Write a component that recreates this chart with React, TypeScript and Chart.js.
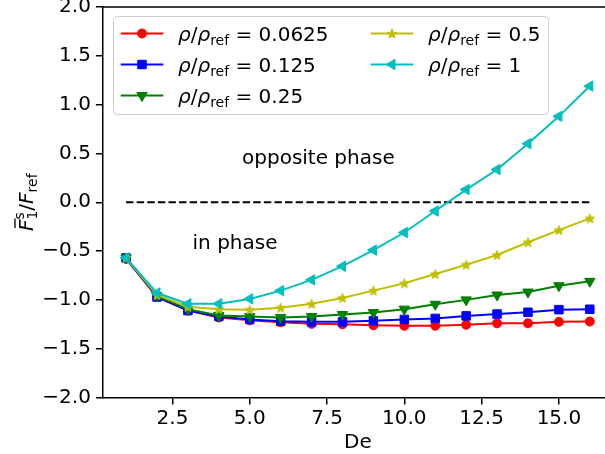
import React, { useEffect, useRef } from 'react';
import { Chart, registerables } from 'chart.js';

Chart.register(...registerables);

// ---------- data ----------
const deValues = [1, 2, 3, 4, 5, 6, 7, 8, 9, 10, 11, 12, 13, 14, 15, 16];
const rho0625 = [-0.58, -0.97, -1.11, -1.18, -1.21, -1.23, -1.245, -1.25, -1.26, -1.265, -1.265, -1.255, -1.24, -1.24, -1.225, -1.222];
const rho125 = [-0.57, -0.97, -1.11, -1.17, -1.2, -1.22, -1.225, -1.225, -1.215, -1.2, -1.19, -1.164, -1.145, -1.127, -1.1, -1.096];
const rho25 = [-0.57, -0.96, -1.095, -1.16, -1.17, -1.18, -1.17, -1.15, -1.13, -1.095, -1.045, -1.0, -0.95, -0.92, -0.855, -0.81];
const rho5 = [-0.57, -0.95, -1.07, -1.095, -1.1, -1.08, -1.04, -0.98, -0.905, -0.83, -0.735, -0.64, -0.54, -0.41, -0.285, -0.165];
const rho1 = [-0.57, -0.93, -1.04, -1.04, -0.99, -0.905, -0.795, -0.655, -0.49, -0.31, -0.09, 0.13, 0.335, 0.6, 0.88, 1.19];
const refLineX = [1, 16];
const refLineY = [0, 0];

const seriesNames = ['0.0625', '0.125', '0.25', '0.5', '1'];
const seriesColors = ['#ff0000', '#0000ff', '#008000', '#bfbf00', '#00bfbf'];
const seriesMarkers = ['circle', 'rect', 'triDown', 'star', 'triLeft'];

const xTickValues = [2.5, 5.0, 7.5, 10.0, 12.5, 15.0];
const yTickValues = [-2.0, -1.5, -1.0, -0.5, 0.0, 0.5, 1.0, 1.5, 2.0];
const xRange = [0.25, 16.75];
const yRange = [-2.0, 2.0];

const xTitle = 'De';
const annotations = [
  { text: 'opposite phase', x: 4.75, y: 0.39 },
  { text: 'in phase', x: 3.15, y: -0.475 },
];

const FONT = 'DejaVu Sans';
const FS = 20;
const SUB = 14;

function fmt(v: number) {
  return v.toFixed(1).replace('-', '\u2212');
}

function starPath(g: CanvasRenderingContext2D, cx: number, cy: number, R: number, r: number) {
  g.beginPath();
  for (let i = 0; i < 10; i++) {
    const rad = i % 2 === 0 ? R : r;
    const a = -Math.PI / 2 + (i * Math.PI) / 5;
    const px = cx + rad * Math.cos(a);
    const py = cy + rad * Math.sin(a);
    if (i === 0) g.moveTo(px, py);
    else g.lineTo(px, py);
  }
  g.closePath();
}

function makeStar(color: string, R: number) {
  const c = document.createElement('canvas');
  const s = Math.ceil(R * 2 + 4);
  c.width = s;
  c.height = s;
  const g = c.getContext('2d')!;
  starPath(g, s / 2, s / 2 + 0.5, R, R * 0.42);
  g.fillStyle = color;
  g.fill();
  g.lineWidth = 1;
  g.strokeStyle = color;
  g.stroke();
  return c;
}

function drawMarker(ctx: CanvasRenderingContext2D, kind: string, x: number, y: number, color: string) {
  ctx.save();
  ctx.fillStyle = color;
  ctx.strokeStyle = color;
  ctx.lineWidth = 1;
  ctx.beginPath();
  if (kind === 'circle') {
    ctx.arc(x, y, 4.5, 0, Math.PI * 2);
  } else if (kind === 'rect') {
    const h = 4.25;
    ctx.rect(x - h, y - h, 2 * h, 2 * h);
  } else if (kind === 'triDown' || kind === 'triLeft') {
    const r = 6;
    let rad = kind === 'triDown' ? Math.PI : -Math.PI / 2;
    for (let i = 0; i < 3; i++) {
      const px = x + Math.sin(rad) * r;
      const py = y - Math.cos(rad) * r;
      if (i === 0) ctx.moveTo(px, py);
      else ctx.lineTo(px, py);
      rad += (2 * Math.PI) / 3;
    }
    ctx.closePath();
  } else if (kind === 'star') {
    starPath(ctx, x, y + 0.5, 5, 2.1);
  }
  ctx.fill();
  ctx.stroke();
  ctx.restore();
}

type Part = { t: string; it?: boolean; sub?: boolean; sup?: boolean; stackWithNext?: boolean; bar?: boolean };

function partFont(p: Part) {
  const size = p.sub || p.sup ? SUB : FS;
  return `${p.it ? 'italic ' : ''}${size}px "${FONT}"`;
}

function measureParts(ctx: CanvasRenderingContext2D, parts: Part[]) {
  let w = 0;
  for (let i = 0; i < parts.length; i++) {
    const p = parts[i];
    ctx.font = partFont(p);
    const pw = ctx.measureText(p.t).width;
    if (p.stackWithNext) {
      const q = parts[i + 1];
      ctx.font = partFont(q);
      const qw = ctx.measureText(q.t).width;
      w += Math.max(pw, qw);
      i++;
    } else {
      w += pw;
    }
  }
  return w;
}

function drawParts(ctx: CanvasRenderingContext2D, parts: Part[], x: number, y: number) {
  let cx = x;
  ctx.textBaseline = 'alphabetic';
  ctx.textAlign = 'left';
  for (let i = 0; i < parts.length; i++) {
    const p = parts[i];
    ctx.font = partFont(p);
    const dy = p.sub ? 4.5 : p.sup ? -8.5 : 0;
    ctx.fillText(p.t, cx, y + dy);
    let pw = ctx.measureText(p.t).width;
    if (p.bar) {
      ctx.save();
      ctx.strokeStyle = ctx.fillStyle as string;
      ctx.lineWidth = 1.3;
      ctx.beginPath();
      ctx.moveTo(cx + 3, y - 17.5);
      ctx.lineTo(cx + pw + 1, y - 17.5);
      ctx.stroke();
      ctx.restore();
    }
    if (p.stackWithNext) {
      const q = parts[i + 1];
      ctx.font = partFont(q);
      const qdy = q.sub ? 4.5 : q.sup ? -8.5 : 0;
      ctx.fillText(q.t, cx, y + qdy);
      pw = Math.max(pw, ctx.measureText(q.t).width);
      i++;
    }
    cx += pw;
  }
}

const overlayPlugin = {
  id: 'overlay',
  afterDatasetsDraw(chart: any) {
    const ctx: CanvasRenderingContext2D = chart.ctx;
    const area = chart.chartArea;
    const xs = chart.scales.x;
    const ys = chart.scales.y;
    ctx.save();
    // top & right spines
    ctx.strokeStyle = '#000';
    ctx.lineWidth = 1.5;
    ctx.beginPath();
    ctx.moveTo(area.left, area.top);
    ctx.lineTo(area.right, area.top);
    ctx.lineTo(area.right, area.bottom);
    ctx.stroke();

    // annotations
    ctx.fillStyle = '#000';
    ctx.font = `${FS}px "${FONT}"`;
    ctx.textBaseline = 'alphabetic';
    ctx.textAlign = 'left';
    for (const a of annotations) {
      ctx.fillText(a.text, xs.getPixelForValue(a.x), ys.getPixelForValue(a.y));
    }

    // legend
    const bx = 113.5, by = 16.5, bw = 435, bh = 98, br = 4;
    ctx.beginPath();
    ctx.moveTo(bx + br, by);
    ctx.lineTo(bx + bw - br, by);
    ctx.arcTo(bx + bw, by, bx + bw, by + br, br);
    ctx.lineTo(bx + bw, by + bh - br);
    ctx.arcTo(bx + bw, by + bh, bx + bw - br, by + bh, br);
    ctx.lineTo(bx + br, by + bh);
    ctx.arcTo(bx, by + bh, bx, by + bh - br, br);
    ctx.lineTo(bx, by + br);
    ctx.arcTo(bx, by, bx + br, by, br);
    ctx.closePath();
    ctx.fillStyle = 'rgba(255,255,255,0.8)';
    ctx.fill();
    ctx.strokeStyle = '#cccccc';
    ctx.lineWidth = 1;
    ctx.stroke();

    seriesNames.forEach((name, i) => {
      const col = i < 3 ? 0 : 1;
      const row = i < 3 ? i : i - 3;
      const cy = 33.5 + row * 31;
      const x0 = col === 0 ? 120.7 : 370.7;
      ctx.strokeStyle = seriesColors[i];
      ctx.lineWidth = 2;
      ctx.beginPath();
      ctx.moveTo(x0, cy);
      ctx.lineTo(x0 + 42.6, cy);
      ctx.stroke();
      drawMarker(ctx, seriesMarkers[i], x0 + 21.3, cy, seriesColors[i]);
      ctx.fillStyle = '#000';
      drawParts(
        ctx,
        [
          { t: '\u03c1', it: true },
          { t: '/' },
          { t: '\u03c1', it: true },
          { t: 'ref', sub: true },
          { t: ' = ' + name },
        ],
        x0 + 57.3,
        cy + 7
      );
    });

    // y axis title (rotated)
    ctx.save();
    ctx.translate(32.5, (area.top + area.bottom) / 2);
    ctx.rotate(-Math.PI / 2);
    ctx.fillStyle = '#000';
    const yParts: Part[] = [
      { t: 'F', it: true, bar: true },
      { t: 's', sup: true, stackWithNext: true },
      { t: '1', sub: true },
      { t: '/' },
      { t: 'F', it: true },
      { t: 'ref', sub: true },
    ];
    const tw = measureParts(ctx, yParts);
    drawParts(ctx, yParts, -tw / 2, 0);
    ctx.restore();

    // x axis title
    ctx.fillStyle = '#000';
    ctx.font = `${FS}px "${FONT}"`;
    ctx.textAlign = 'center';
    ctx.textBaseline = 'alphabetic';
    ctx.fillText(xTitle, (area.left + area.right) / 2, 448);
    ctx.restore();
  },
};

export default function App() {
  const ref = useRef<HTMLCanvasElement>(null);
  useEffect(() => {
    document.body.style.margin = '0';
    const canvas = ref.current!;
    const star = makeStar(seriesColors[3], 5);
    const allSeries = [rho0625, rho125, rho25, rho5, rho1];
    const styleFor = (m: string) => {
      if (m === 'circle') return { pointStyle: 'circle', pointRadius: 4.5, rotation: 0 };
      if (m === 'rect') return { pointStyle: 'rect', pointRadius: 6, rotation: 0 };
      if (m === 'triDown') return { pointStyle: 'triangle', pointRadius: 6, rotation: 180 };
      if (m === 'triLeft') return { pointStyle: 'triangle', pointRadius: 6, rotation: -90 };
      return { pointStyle: star as any, pointRadius: 5, rotation: 0 };
    };
    const datasets: any[] = allSeries.map((vals, i) => {
      const st = styleFor(seriesMarkers[i]);
      return {
        label: seriesNames[i],
        data: deValues.map((x, k) => ({ x, y: vals[k] })),
        borderColor: seriesColors[i],
        backgroundColor: seriesColors[i],
        borderWidth: 2,
        pointStyle: st.pointStyle,
        pointRadius: st.pointRadius,
        pointRotation: st.rotation,
        pointBorderWidth: 1,
        pointBorderColor: seriesColors[i],
        pointBackgroundColor: seriesColors[i],
        tension: 0,
        order: 5 - i,
      };
    });
    datasets.push({
      label: 'zero',
      data: refLineX.map((x, k) => ({ x, y: refLineY[k] })),
      borderColor: '#000',
      borderWidth: 2,
      borderDash: [7.4, 3.2],
      pointRadius: 0,
      order: 10,
    });

    const chart = new Chart(canvas, {
      type: 'line',
      data: { datasets },
      options: {
        animation: false,
        responsive: false,
        devicePixelRatio: 1,
        layout: { padding: { left: 0, right: 6.5, top: 5.7, bottom: 0 } },
        plugins: { legend: { display: false }, tooltip: { enabled: false } },
        scales: {
          x: {
            type: 'linear',
            min: xRange[0],
            max: xRange[1],
            afterBuildTicks: (s: any) => {
              s.ticks = xTickValues.map((v) => ({ value: v }));
            },
            afterFit: (s: any) => {
              s.height = 56.5;
              s.paddingLeft = 0;
              s.paddingRight = 0;
            },
            ticks: {
              callback: (v: any) => fmt(Number(v)),
              font: { family: FONT, size: FS },
              color: '#000',
              padding: 2,
              maxRotation: 0,
              autoSkip: false,
            },
            grid: { drawOnChartArea: false, drawTicks: true, tickLength: 7, color: '#000', lineWidth: 1.5 },
            border: { display: true, color: '#000', width: 1.5 },
          },
          y: {
            type: 'linear',
            min: yRange[0],
            max: yRange[1],
            afterBuildTicks: (s: any) => {
              s.ticks = yTickValues.map((v) => ({ value: v }));
            },
            afterFit: (s: any) => {
              s.width = 102.9;
              s.paddingTop = 0;
              s.paddingBottom = 0;
            },
            ticks: {
              callback: (v: any) => fmt(Number(v)),
              font: { family: FONT, size: FS },
              color: '#000',
              padding: 5,
              autoSkip: false,
            },
            grid: { drawOnChartArea: false, drawTicks: true, tickLength: 7, color: '#000', lineWidth: 1.5 },
            border: { display: true, color: '#000', width: 1.5 },
          },
        },
      },
      plugins: [overlayPlugin],
    } as any);
    return () => chart.destroy();
  }, []);

  return (
    <div style={{ position: 'fixed', left: 0, top: 0, width: 605, height: 454, overflow: 'hidden', background: '#fff' }}>
      <canvas ref={ref} width={620} height={454} style={{ display: 'block', width: 620, height: 454 }} />
    </div>
  );
}
